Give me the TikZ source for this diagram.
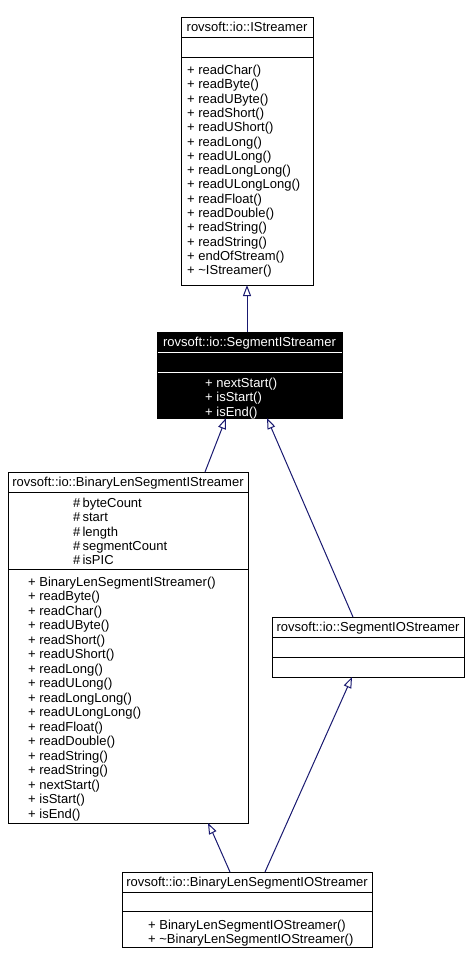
\documentclass[tikz,border=0pt]{standalone}
\usepackage{fontspec}
\setmainfont{Liberation Sans}
\usetikzlibrary{arrows.meta}
\definecolor{edgeblue}{HTML}{191970}
\begin{document}
\begin{tikzpicture}[x=1pt,y=-1pt,
  cls/.style={draw=black, line width=1pt, fill=white, inner sep=0pt, outer sep=0pt, anchor=north west},
  dark/.style={cls, fill=black},
  txt/.style={font=\fontsize{13}{14.4}\selectfont, inner sep=0pt, anchor=base west},
  ttl/.style={txt, anchor=base},
  sepline/.style={draw=black, line width=1pt},
  inh/.style={draw=edgeblue, line width=1pt, -{Triangle[open, length=11pt, width=8pt, fill=white]}}]
\useasboundingbox (0,0) rectangle (468,964);

% rovsoft::io::IStreamer
\node[cls, minimum width=132pt, minimum height=268pt] (istr) at (181,17) {};
\draw[sepline] ([yshift=-20pt]istr.north west) -- ([yshift=-20pt]istr.north east);
\draw[sepline] ([yshift=-40pt]istr.north west) -- ([yshift=-40pt]istr.north east);
\node[ttl] (istr-t) at (247,31.5) {rovsoft::io::IStreamer};
\foreach \m [count=\i from 0] in {readChar,readByte,readUByte,readShort,readUShort,readLong,readULong,readLongLong,readULongLong,readFloat,readDouble,readString,readString,endOfStream,\textasciitilde IStreamer}
  \node[txt] (istr-m\i) at (187,{74.5+14.3*\i}) {+ \m()};

% rovsoft::io::SegmentIStreamer
\node[dark, minimum width=185pt, minimum height=86pt] (segis) at (157,332) {};
\draw[sepline, draw=white] ([yshift=-20pt,xshift=0.5pt]segis.north west) -- ([yshift=-20pt,xshift=-0.5pt]segis.north east);
\draw[sepline, draw=white] ([yshift=-40pt,xshift=0.5pt]segis.north west) -- ([yshift=-40pt,xshift=-0.5pt]segis.north east);
\node[ttl, text=white] (segis-t) at (249.5,346.5) {rovsoft::io::SegmentIStreamer};
\foreach \m [count=\i from 0] in {nextStart,isStart,isEnd}
  \node[txt, text=white] (segis-m\i) at (205,{387.5+14.3*\i}) {+ \m()};

% rovsoft::io::BinaryLenSegmentIStreamer
\node[cls, minimum width=240pt, minimum height=351pt] (blsis) at (8,472) {};
\draw[sepline] ([yshift=-20pt]blsis.north west) -- ([yshift=-20pt]blsis.north east);
\draw[sepline] ([yshift=-97pt]blsis.north west) -- ([yshift=-97pt]blsis.north east);
\node[ttl] (blsis-t) at (128,486.5) {rovsoft::io::BinaryLenSegmentIStreamer};
\foreach \a [count=\i from 0] in {byteCount,start,length,segmentCount,isPIC}
  \node[txt] (blsis-a\i) at (73,{507.5+14.3*\i}) {\#\,\a};
\foreach \m [count=\i from 0] in {BinaryLenSegmentIStreamer,readByte,readChar,readUByte,readShort,readUShort,readLong,readULong,readLongLong,readULongLong,readFloat,readDouble,readString,readString,nextStart,isStart,isEnd}
  \node[txt] (blsis-m\i) at (28,{586+14.5*\i}) {+ \m()};

% rovsoft::io::SegmentIOStreamer
\node[cls, minimum width=192pt, minimum height=60pt] (segios) at (272,617) {};
\draw[sepline] ([yshift=-20pt]segios.north west) -- ([yshift=-20pt]segios.north east);
\draw[sepline] ([yshift=-40pt]segios.north west) -- ([yshift=-40pt]segios.north east);
\node[ttl] (segios-t) at (368,631.5) {rovsoft::io::SegmentIOStreamer};

% rovsoft::io::BinaryLenSegmentIOStreamer
\node[cls, minimum width=250pt, minimum height=75pt] (blsios) at (122,872) {};
\draw[sepline] ([yshift=-20pt]blsios.north west) -- ([yshift=-20pt]blsios.north east);
\draw[sepline] ([yshift=-39pt]blsios.north west) -- ([yshift=-39pt]blsios.north east);
\node[ttl] (blsios-t) at (247,886.5) {rovsoft::io::BinaryLenSegmentIOStreamer};
\node[txt] (blsios-m0) at (148,929) {+ BinaryLenSegmentIOStreamer()};
\node[txt] (blsios-m1) at (148,943) {+ \textasciitilde BinaryLenSegmentIOStreamer()};

% inheritance edges
\draw[inh] ([xshift=-2.5pt]segis.north) -- (istr.south);
\draw[inh] ([xshift=77pt]blsis.north) -- ([xshift=-23.5pt]segis.south);
\draw[inh] ([xshift=-15pt]segios.north) -- ([xshift=17.5pt]segis.south);
\draw[inh] ([xshift=-17pt]blsios.north) .. controls ([xshift=-25pt,yshift=20pt]blsios.north) .. ([xshift=80pt]blsis.south);
\draw[inh] ([xshift=18pt]blsios.north) -- ([xshift=-16pt]segios.south);
\end{tikzpicture}
\end{document}
